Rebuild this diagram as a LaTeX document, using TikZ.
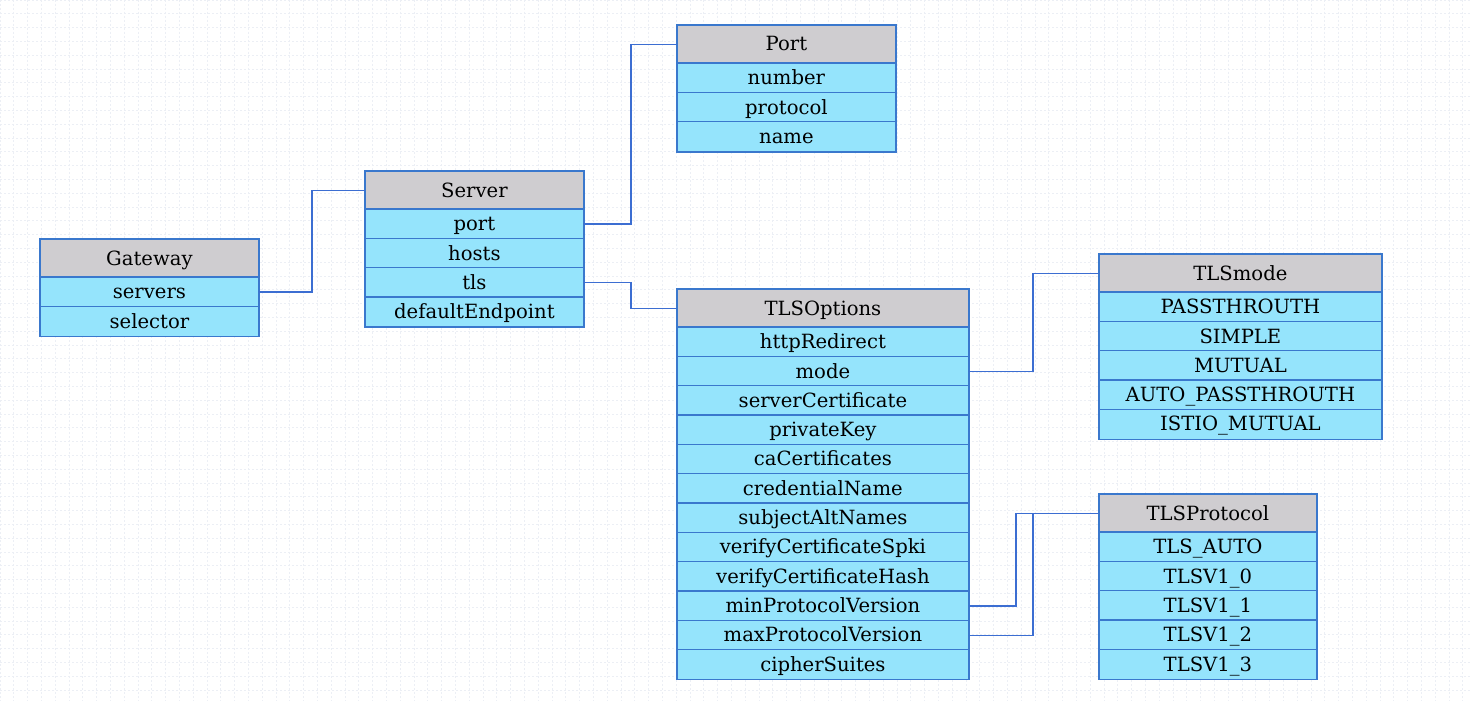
\documentclass[tikz,border=0pt]{standalone}
\usepackage{fontspec}
\setmainfont{DejaVu Serif}
\usetikzlibrary{calc}

\definecolor{hdrfill}{RGB}{207,205,208}
\definecolor{rowfill}{RGB}{149,228,252}
\definecolor{boxline}{RGB}{58,120,205}
\definecolor{linkline}{RGB}{60,110,210}
\definecolor{gridline}{RGB}{236,239,245}

\tikzset{
  hdr/.style={fill=hdrfill, inner sep=0pt,
    minimum height=19pt, text height=0.84em, text depth=0.18em, font=\fontsize{9.8}{11}\selectfont},
  fieldrow/.style={fill=rowfill, inner sep=0pt,
    minimum height=14.67pt, text height=0.84em, text depth=0.18em, font=\fontsize{9.8}{11}\selectfont},
  rule/.style={draw=boxline, line width=0.7pt},
  conn/.style={draw=linkline, line width=0.6pt},
}

% class box: name, left x, top y, width (px), title, field list
\newcommand{\classbox}[6]{%
  \node[hdr, minimum width=#4*0.5pt, anchor=north west] (#1) at (#2,#3) {#5};
  \foreach \r [count=\i] in {#6} {
    \node[fieldrow, minimum width=#4*0.5pt, anchor=north west] (#1-\i) at (#2,{#3+38+(\i-1)*29.33}) {\r};
    \draw[rule] (#1-\i.north west) -- (#1-\i.north east);
    \xdef\lastrow{\i}
  }
  \draw[rule] (#1.north west) rectangle (#1-\lastrow.south east);
}

\begin{document}
\begin{tikzpicture}[x=0.5pt, y=-0.5pt]
  \useasboundingbox (0,0) rectangle (1470,701);
  \fill[white] (0,0) rectangle (1470,701);
  % faint background grid
  \foreach \g in {0,13.8,...,1470} {
    \draw[gridline, line width=0.4pt, dash pattern=on 1pt off 1pt] (\g,0) -- (\g,701);
  }
  \foreach \g in {0,13.8,...,701} {
    \draw[gridline, line width=0.4pt, dash pattern=on 1pt off 1pt] (0,\g) -- (1470,\g);
  }

  \classbox{gw}{40}{239}{218}{Gateway}{servers,selector}
  \classbox{srv}{365}{171}{218}{Server}{port,hosts,tls,defaultEndpoint}
  \classbox{prt}{677}{25}{218}{Port}{number,protocol,name}
  \classbox{tlso}{677}{289}{291}{TLSOptions}{httpRedirect,mode,serverCertificate,privateKey,caCertificates,credentialName,subjectAltNames,verifyCertificateSpki,verifyCertificateHash,minProtocolVersion,maxProtocolVersion,cipherSuites}
  \classbox{tlsm}{1099}{254}{282}{TLSmode}{PASSTHROUTH,SIMPLE,MUTUAL,AUTO\_PASSTHROUTH,ISTIO\_MUTUAL}
  \classbox{tlsp}{1099}{494}{217}{TLSProtocol}{TLS\_AUTO,TLSV1\_0,TLSV1\_1,TLSV1\_2,TLSV1\_3}

  % connectors
  \draw[conn] (gw-1.east) -| ([xshift=-26.5pt]srv.west) -- (srv.west);
  \draw[conn] (srv-1.east) -| ([xshift=-23pt]prt.west) -- (prt.west);
  \draw[conn] (srv-3.east) -| ([xshift=-23pt]tlso.west) -- (tlso.west);
  \draw[conn] (tlso-2.east) -| ([xshift=-33pt]tlsm.west) -- (tlsm.west);
  \draw[conn] (tlso-10.east) -| ([xshift=-41.5pt]tlsp.west) -- (tlsp.west);
  \draw[conn] (tlso-11.east) -| ([xshift=-33pt]tlsp.west) -- (tlsp.west);
\end{tikzpicture}
\end{document}
